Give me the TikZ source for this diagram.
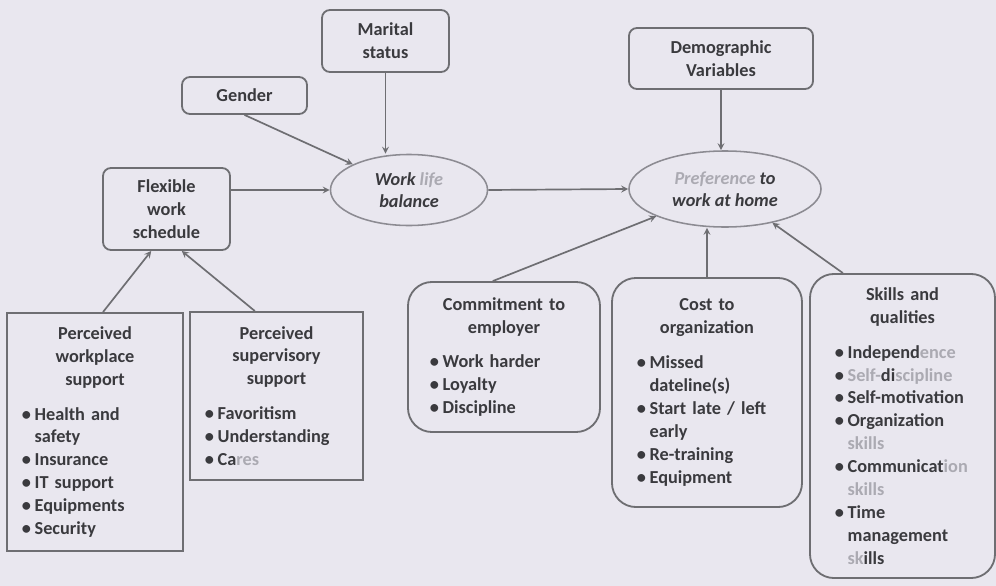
\documentclass[tikz,border=0pt]{standalone}
\usepackage{fontspec}
\setmainfont{Carlito}
\usetikzlibrary{shapes.geometric, arrows}
\definecolor{paper}{HTML}{E9E7EF}
\definecolor{inkgray}{HTML}{3A3A3E}
\definecolor{linegray}{HTML}{6E6E72}
\definecolor{ovalgray}{HTML}{8C8B92}
\definecolor{fadegray}{HTML}{ABAAB2}
\tikzstyle{arrow} = [line width=1.2pt, draw=linegray, ->, >=stealth]
\tikzstyle{roundbox} = [draw=linegray, line width=1.3pt, rounded corners=0.2cm,
  align=center, text=inkgray, inner sep=2pt,
  font=\bfseries\fontsize{13}{16.3}\selectfont]
\tikzstyle{listbox} = [draw=linegray, line width=1.3pt, rounded corners=0.6cm,
  text=inkgray, inner ysep=4pt,
  font=\bfseries\fontsize{13}{16.3}\selectfont]
\tikzstyle{oval} = [ellipse, draw=ovalgray, line width=1.1pt, inner sep=0pt,
  align=center, text=inkgray,
  font=\bfseries\itshape\fontsize{13}{15.6}\selectfont]
\newcommand{\fd}[1]{\textcolor{fadegray}{#1}}
\newcommand{\itm}{\par\hangindent=9pt\hangafter=1\noindent\makebox[9pt][l]{\textbullet}}
\newcommand{\boxtitle}[1]{{\centering #1\par}\vspace{8.5pt}\raggedright}

\begin{document}
\begin{tikzpicture}[x=0.025cm, y=-0.025cm]
\fill[paper] (0,0) rectangle (996,586);
\useasboundingbox (0,0) rectangle (996,586);

% upper row
\node[roundbox, minimum width=3.175cm, minimum height=1.55cm] (mar) at (385.5,41) {Marital\\status};
\node[roundbox, minimum width=3.125cm, minimum height=0.925cm] (gen) at (244.5,95.5) {Gender};
\node[roundbox, minimum width=3.175cm, minimum height=2.05cm] (flx) at (166.5,209) {Flexible\\work\\schedule};
\node[roundbox, minimum width=4.6cm, minimum height=1.525cm] (dem) at (721,58.5) {Demographic\\Variables};
\node[oval, minimum width=3.925cm, minimum height=1.775cm] (wlb) at (409,190) {Work \fd{life}\\balance};
\node[oval, minimum width=4.8cm, minimum height=1.9cm] (pref) at (725,189) {\fd{Preference} to\\work at home};

% lower row
\node[listbox, sharp corners, text width=3.65cm, inner xsep=0.375cm, minimum height=5.95cm] (wps) at (95,432)
  {\boxtitle{Perceived\\workplace\\support}
   \itm Health and\newline safety
   \itm Insurance
   \itm IT support
   \itm Equipments
   \itm Security\par};
\node[listbox, sharp corners, text width=3.575cm, inner xsep=0.375cm, minimum height=4.2cm] (sup) at (276.5,396)
  {\boxtitle{Perceived\\supervisory\\support}
   \itm Favoritism
   \itm Understanding
   \itm Ca\fd{res}\par};
\node[listbox, text width=3.7cm, inner xsep=0.55cm, minimum height=3.75cm] (com) at (504,357)
  {\boxtitle{Commitment to\\employer}
   \itm Work harder
   \itm Loyalty
   \itm Discipline\par};
\node[listbox, text width=3.5cm, inner xsep=0.625cm, minimum height=5.725cm] (cst) at (707,392.5)
  {\boxtitle{Cost to\\organization}
   \itm Missed\newline dateline(s)
   \itm Start late / left\newline early
   \itm Re-training
   \itm Equipment\par};
\node[listbox, text width=3.375cm, inner xsep=0.625cm, minimum height=7.6cm] (skl) at (902.5,426)
  {\boxtitle{Skills and\\qualities}
   \itm Independ\fd{ence}
   \itm \fd{Self-}di\fd{scipline}
   \itm Self-motivation
   \itm Organization\newline \fd{skills}
   \itm Communicat\fd{ion}\newline \fd{skills}
   \itm Time\newline management\newline \fd{sk}ills\par};

% connectors
\draw[arrow] (gen.south) -- (wlb);
\draw[arrow] (mar) -- (mar |- wlb.north);
\draw[arrow] (flx.east |- wlb.west) -- (wlb.west);
\draw[arrow] (wlb.east) -- (pref.west);
\draw[arrow] (dem) -- (dem |- pref.north);
\draw[arrow] ([xshift=2mm]wps.north) -- (flx.250);
\draw[arrow] ([xshift=-5.4mm]sup.north) -- (flx.290);
\draw[arrow] ([xshift=-2.8mm]com.north) -- (pref);
\draw[arrow] (cst) -- (cst |- pref.south);
\draw[arrow] ([xshift=-14.9mm]skl.north) -- (pref);
\end{tikzpicture}
\end{document}
